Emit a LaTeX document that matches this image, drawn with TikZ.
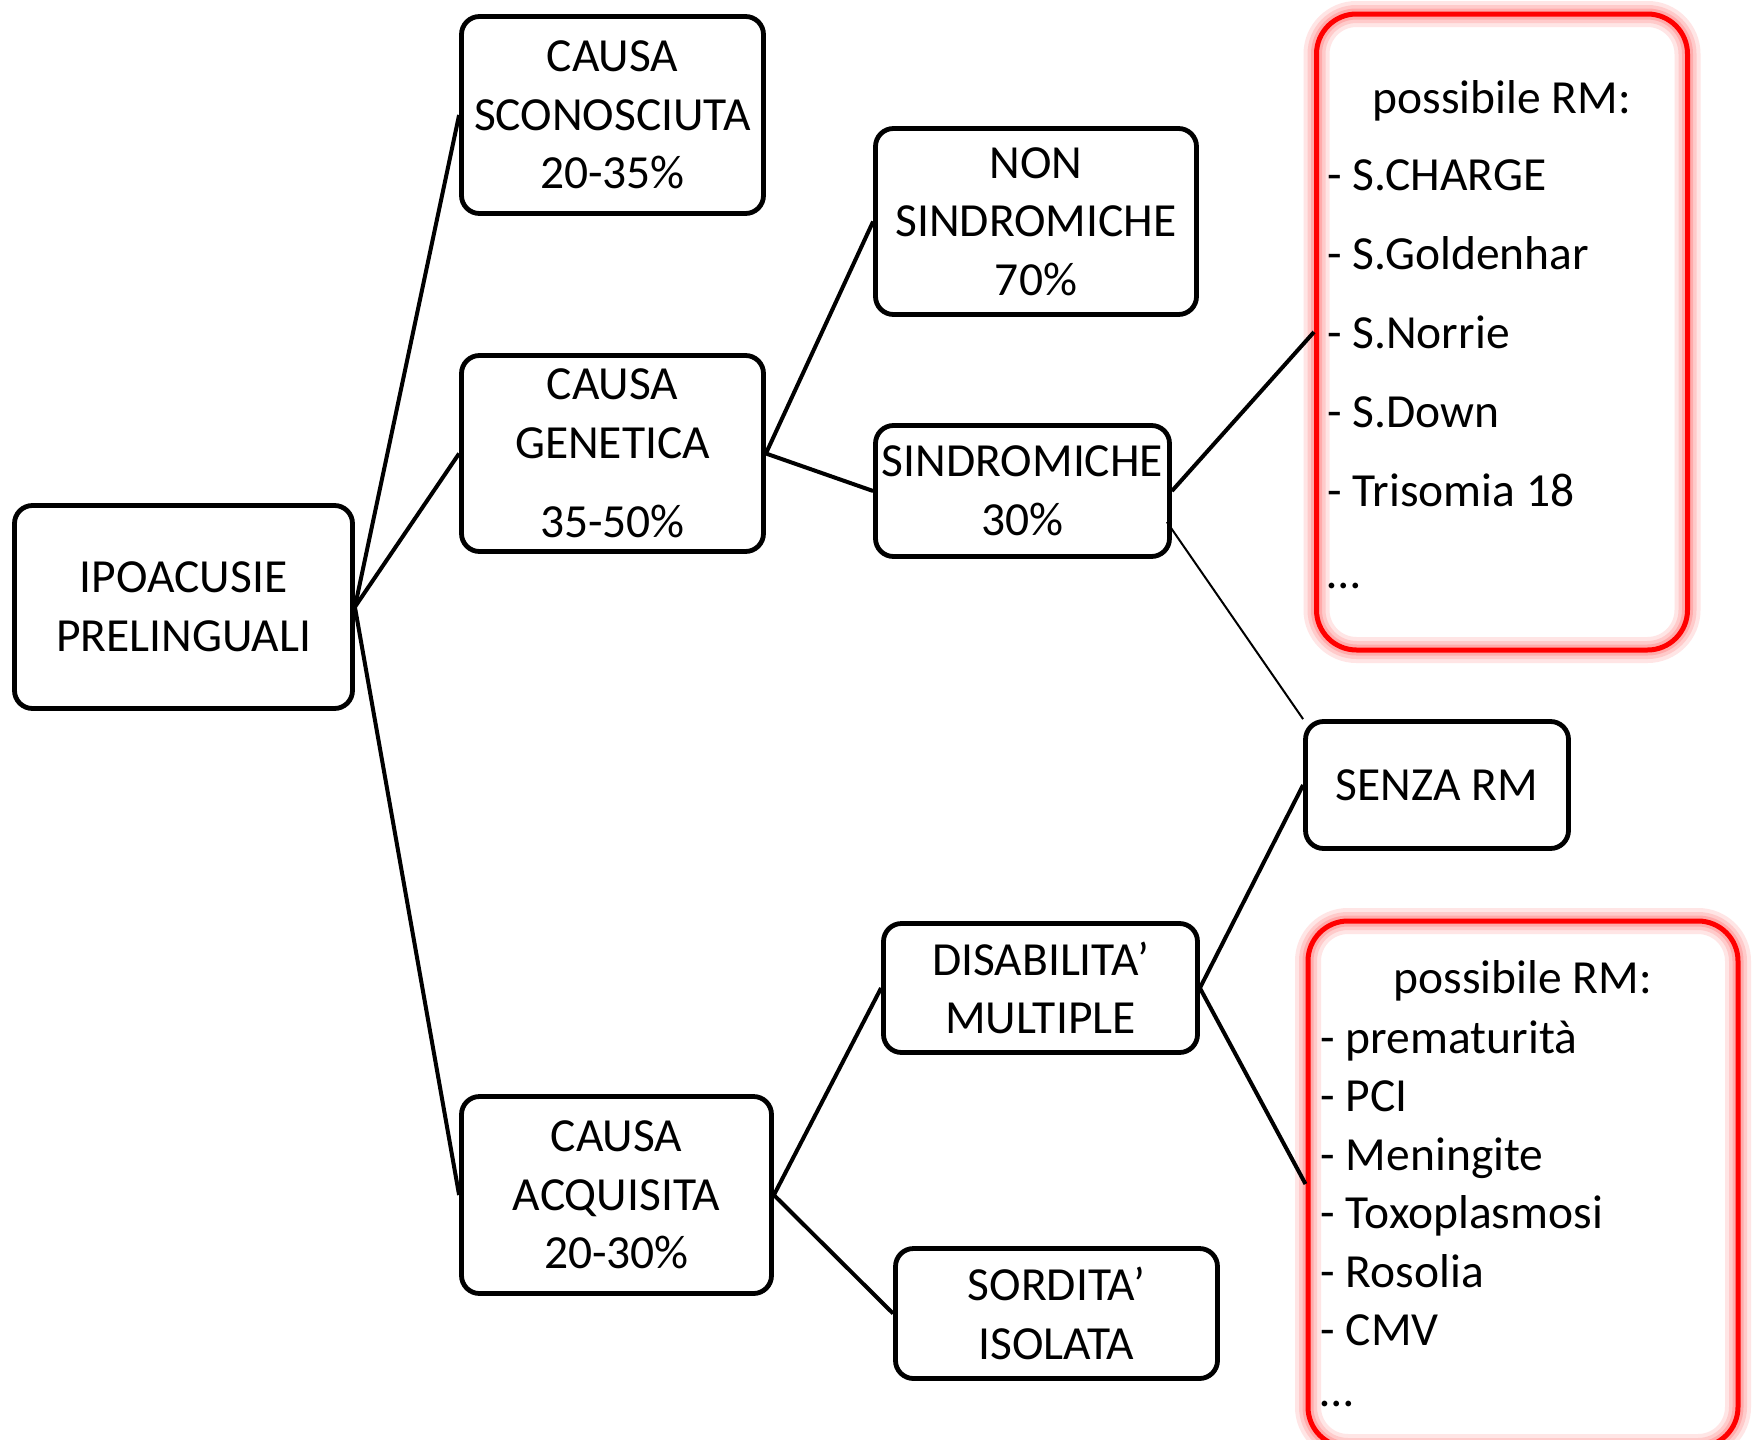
\documentclass[tikz,border=0pt]{standalone}
\usepackage{fontspec}
\setmainfont{Carlito}
\usetikzlibrary{calc}
\tikzset{
  box/.style={draw=black, line width=4.8pt, rounded corners=18pt, inner sep=0pt, align=center,
    font={\fontsize{47.5pt}{58.5pt}\selectfont}},
  conn/.style={line width=4pt},
  thinconn/.style={line width=2pt},
  rmbox/.style={draw=red, line width=5pt, rounded corners=40pt, inner sep=0pt,
    preaction={draw=red!40, line width=26pt, opacity=0.25},
    preaction={draw=red!45, line width=18pt, opacity=0.3},
    preaction={draw=red!55, line width=11pt, opacity=0.35}},
  rmtext/.style={inner sep=0pt, align=left, font={\fontsize{47.5pt}{58.5pt}\selectfont}},
}
\begin{document}
\begin{tikzpicture}[x=1pt, y=-1pt]
\useasboundingbox (0,0) rectangle (1754,1440);
\fill[white] (0,0) rectangle (1754,1440);

% main nodes
\node[box, minimum width=338pt, minimum height=203pt] (ipo) at (183.5,607) {IPOACUSIE\\PRELINGUALI};
\node[box, minimum width=302pt, minimum height=197pt] (scon) at (612.5,115) {CAUSA\\SCONOSCIUTA\\20-35\%};
\node[box, minimum width=302pt, minimum height=196pt] (gen) at (612.5,453.5) {CAUSA\\GENETICA\\[21pt]35-50\%};
\node[box, minimum width=310pt, minimum height=197pt] (acq) at (616.5,1195) {CAUSA\\ACQUISITA\\20-30\%};
\node[box, minimum width=321pt, minimum height=186pt] (non) at (1036,221.5) {NON\\SINDROMICHE\\70\%};
\node[box, minimum width=294pt, minimum height=131pt] (sind) at (1022.5,491) {SINDROMICHE\\30\%};
\node[box, minimum width=263pt, minimum height=127pt] (senza) at (1437,785) {SENZA RM};
\node[box, minimum width=314pt, minimum height=129pt] (dis) at (1040.5,988) {DISABILITA’\\MULTIPLE};
\node[box, minimum width=322pt, minimum height=130pt] (sord) at (1056.5,1313.5) {SORDITA’\\ISOLATA};

% red boxes
\node[rmbox, minimum width=371pt, minimum height=636pt] (rm1) at (1502,332) {};
\node[rmbox, minimum width=430pt, minimum height=526pt] (rm2) at (1523,1184) {};

% red box texts
\node[rmtext, anchor=center] (rm1h) at ($(rm1.north)+(0,89)$) {possibile RM:};
\node[rmtext, anchor=north west, font={\fontsize{47.5pt}{79pt}\selectfont}] (rm1l) at ($(rm1.north west)+(13,148)$)
  {- S.CHARGE\\- S.Goldenhar\\- S.Norrie\\- S.Down\\- Trisomia 18\\[3pt]…};
\node[rmtext, anchor=center] (rm2h) at ($(rm2.north)+(0,62)$) {possibile RM:};
\node[rmtext, anchor=north west] (rm2l) at ($(rm2.north west)+(15,102)$)
  {- prematurità\\- PCI\\- Meningite\\- Toxoplasmosi\\- Rosolia\\- CMV\\[2pt]…};

% connectors
\draw[conn] (ipo.east) -- (scon.west);
\draw[conn] (ipo.east) -- (gen.west);
\draw[conn] (ipo.east) -- (acq.west);
\draw[conn] (gen.east) -- (non.west);
\draw[conn] (gen.east) -- (sind.west);
\draw[conn] (sind.east) -- (rm1.west);
\draw[thinconn] ($(sind.east)+(-5,31)$) -- (senza.north west);
\draw[conn] (acq.east) -- (dis.west);
\draw[conn] (acq.east) -- (sord.west);
\draw[conn] (dis.east) -- (senza.west);
\draw[conn] (dis.east) -- (rm2.west);
\end{tikzpicture}
\end{document}
